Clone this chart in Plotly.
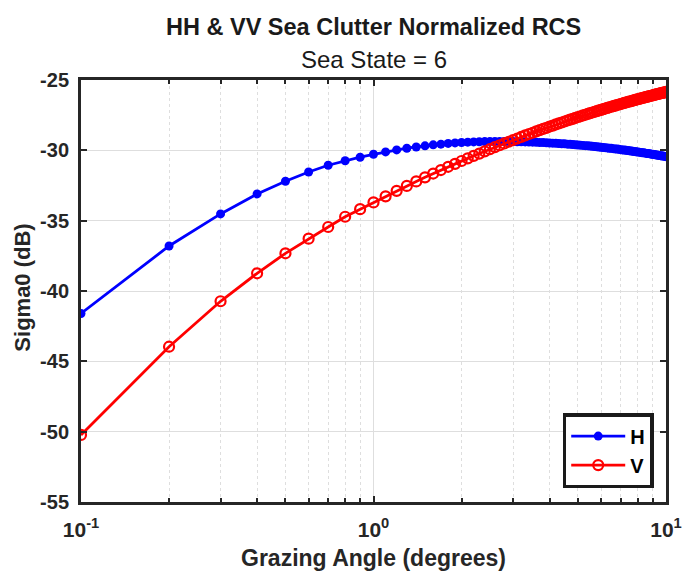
import plotly.graph_objects as go

# Grazing angles 0.1 : 0.1 : 10 degrees
angles = [round(0.1 * i, 1) for i in range(1, 101)]

sigma_h = [
    -41.60, -36.80, -34.52, -33.10, -32.20, -31.54, -31.06, -30.74, -30.49, -30.28,
    -30.11, -29.97, -29.85, -29.76, -29.68, -29.61, -29.56, -29.51, -29.47, -29.44,
    -29.42, -29.40, -29.39, -29.38, -29.37, -29.37, -29.37, -29.37, -29.38, -29.38,
    -29.39, -29.39, -29.40, -29.41, -29.42, -29.43, -29.44, -29.45, -29.46, -29.48,
    -29.49, -29.50, -29.52, -29.53, -29.54, -29.56, -29.57, -29.59, -29.60, -29.62,
    -29.63, -29.65, -29.67, -29.68, -29.70, -29.71, -29.73, -29.75, -29.76, -29.78,
    -29.80, -29.81, -29.83, -29.85, -29.86, -29.88, -29.90, -29.91, -29.93, -29.95,
    -29.97, -29.98, -30.00, -30.02, -30.03, -30.05, -30.07, -30.08, -30.10, -30.12,
    -30.13, -30.15, -30.17, -30.18, -30.20, -30.22, -30.23, -30.25, -30.27, -30.28,
    -30.30, -30.32, -30.33, -30.35, -30.37, -30.38, -30.40, -30.41, -30.43, -30.45,
]

sigma_v = [
    -50.23, -43.96, -40.73, -38.74, -37.32, -36.28, -35.45, -34.72, -34.18, -33.70,
    -33.27, -32.88, -32.53, -32.21, -31.92, -31.65, -31.40, -31.17, -30.96, -30.76,
    -30.57, -30.39, -30.23, -30.07, -29.92, -29.77, -29.64, -29.51, -29.39, -29.27,
    -29.16, -29.05, -28.94, -28.84, -28.75, -28.65, -28.56, -28.48, -28.40, -28.31,
    -28.24, -28.16, -28.09, -28.02, -27.95, -27.88, -27.82, -27.76, -27.69, -27.63,
    -27.58, -27.52, -27.47, -27.41, -27.36, -27.31, -27.26, -27.21, -27.16, -27.12,
    -27.07, -27.03, -26.98, -26.94, -26.90, -26.86, -26.82, -26.78, -26.74, -26.71,
    -26.67, -26.63, -26.60, -26.56, -26.53, -26.50, -26.46, -26.43, -26.40, -26.37,
    -26.34, -26.31, -26.28, -26.25, -26.22, -26.20, -26.17, -26.14, -26.12, -26.09,
    -26.06, -26.04, -26.01, -25.99, -25.97, -25.94, -25.92, -25.90, -25.87, -25.85,
]

x_tickvals = [0.1, 1, 10]
x_ticktext = ["10<sup>-1</sup>", "10<sup>0</sup>", "10<sup>1</sup>"]
x_minor_vals = [0.2, 0.3, 0.4, 0.5, 0.6, 0.7, 0.8, 0.9, 2, 3, 4, 5, 6, 7, 8, 9]
y_tickvals = [-55, -50, -45, -40, -35, -30, -25]
y_ticktext = ["-55", "-50", "-45", "-40", "-35", "-30", "-25"]

FONT = "Liberation Sans, Arial, Helvetica, sans-serif"
AXC = "#262626"
GRID = "#dedede"

fig = go.Figure()
fig.add_trace(go.Scatter(
    x=angles, y=sigma_h, mode="lines+markers", name="H",
    line=dict(color="#0000ff", width=2.8),
    marker=dict(symbol="circle", size=9, color="#0000ff"),
))
fig.add_trace(go.Scatter(
    x=angles, y=sigma_v, mode="lines+markers", name="V",
    line=dict(color="#ff0000", width=2.8),
    marker=dict(symbol="circle-open", size=10, color="#ff0000", line=dict(width=2.2, color="#ff0000")),
))

fig.update_layout(
    width=683, height=575,
    margin=dict(l=81, r=17, t=80, b=73, autoexpand=False),
    paper_bgcolor="white", plot_bgcolor="white",
    font=dict(family=FONT, color=AXC),
    showlegend=True,
    legend=dict(
        x=0.979, y=0.033, xanchor="right", yanchor="bottom",
        bgcolor="white", bordercolor="#1a1a1a", borderwidth=3.5,
        font=dict(size=20, family=FONT, color="black", weight="bold"),
        itemwidth=54, tracegroupgap=0,
    ),
    xaxis=dict(
        type="log", range=[-1, 1],
        tickvals=x_tickvals, ticktext=x_ticktext,
        tickfont=dict(size=21, family=FONT, color=AXC, weight="bold"),
        ticks="inside", ticklen=6, tickwidth=2, tickcolor=AXC,
        ticklabelstandoff=7,
        showline=True, linecolor=AXC, linewidth=3, mirror="ticks",
        showgrid=True, gridcolor=GRID, gridwidth=1,
        zeroline=False, automargin=False,
        minor=dict(tickvals=x_minor_vals, ticks="inside", ticklen=4, tickwidth=2,
                   tickcolor=AXC, showgrid=True, gridcolor=GRID, griddash="dot",
                   gridwidth=1),
    ),
    yaxis=dict(
        range=[-55, -25],
        tickvals=y_tickvals, ticktext=y_ticktext,
        tickfont=dict(size=20, family=FONT, color=AXC, weight="bold"),
        ticks="inside", ticklen=6, tickwidth=2, tickcolor=AXC,
        ticklabelstandoff=5,
        showline=True, linecolor=AXC, linewidth=3, mirror="ticks",
        showgrid=True, gridcolor=GRID, gridwidth=1,
        zeroline=False, automargin=False,
    ),
    annotations=[
        dict(text="<b>HH & VV Sea Clutter Normalized RCS</b>", x=0.5, y=1.1256,
             xref="paper", yref="paper", xanchor="center", yanchor="middle",
             showarrow=False, font=dict(size=23.5, family=FONT, color="#1a1a1a")),
        dict(text="Sea State = 6", x=0.5, y=1.0474,
             xref="paper", yref="paper", xanchor="center", yanchor="middle",
             showarrow=False, font=dict(size=24, family=FONT, color="#1a1a1a")),
        dict(text="<b>Grazing Angle (degrees)</b>", x=0.5, y=-0.1335,
             xref="paper", yref="paper", xanchor="center", yanchor="middle",
             showarrow=False, font=dict(size=23, family=FONT, color=AXC)),
        dict(text="<b>Sigma0 (dB)</b>", x=-0.0991, y=0.508, textangle=-90,
             xref="paper", yref="paper", xanchor="center", yanchor="middle",
             showarrow=False, font=dict(size=22, family=FONT, color=AXC)),
    ],
)

fig.write_html("out.html")
